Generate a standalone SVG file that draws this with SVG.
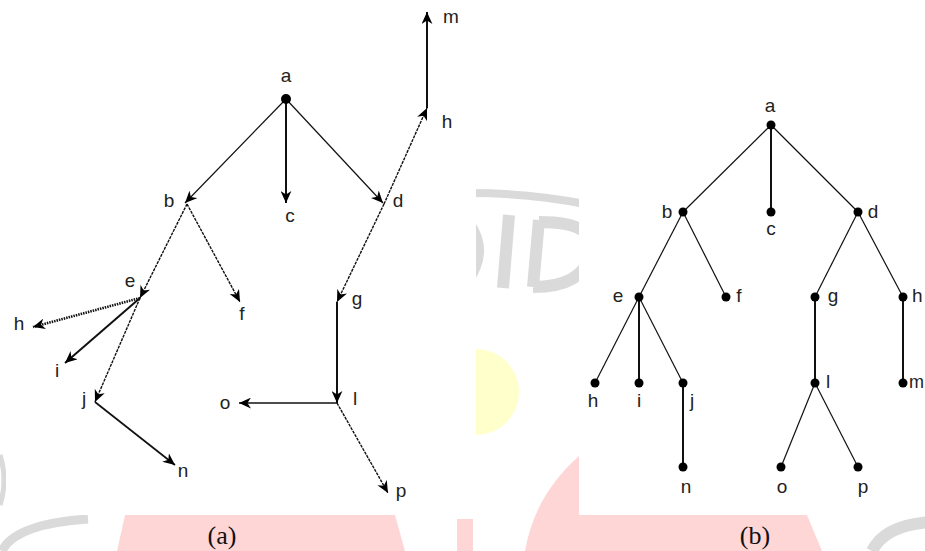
<svg xmlns="http://www.w3.org/2000/svg" width="925" height="551" viewBox="0 0 925 551">
<style>
.lbl{font-family:"Liberation Sans",Arial,sans-serif;font-size:19px;fill:#222;text-anchor:middle}
.st{font-family:"Liberation Sans",Arial,sans-serif;font-size:19px;fill:#222;text-anchor:start}
.cap{font-family:"Liberation Serif","Times New Roman",serif;font-size:26px;fill:#111;text-anchor:middle}
.e{stroke:#111;stroke-width:1.2;fill:none}
.d{stroke:#111;stroke-width:1.4;fill:none;stroke-dasharray:3 1}
.t{stroke:#111;stroke-width:2;fill:none}
.arr{marker-end:url(#ah)}
.dot{fill:#000}
.wg{fill:none;stroke:#dadada}
.pk{fill:#ffd6d6}
</style>
<defs>
<marker id="ah" viewBox="0 0 10 9" refX="10" refY="4.5" markerWidth="12" markerHeight="11" markerUnits="userSpaceOnUse" orient="auto"><path d="M0,0 L10,4.5 L0,9 L3,4.5 Z" fill="#000"/></marker>
</defs>
<rect width="925" height="551" fill="#fff"/>
<g id="watermark">
<path class="pk" d="M125,515 L395,515 L405,551 L117,551 Z"/>
<rect class="pk" x="457" y="519" width="16" height="32"/>
<path class="pk" d="M525,551 C532,512 550,482 579,456 L579,515 L807,515 L822,551 Z"/>
<circle cx="476" cy="392" r="43" fill="#ffffcc"/>
<path class="wg" stroke-width="8" d="M470,193 Q530,193 585,204"/>
<path class="wg" stroke-width="8" d="M470,222 Q490,250 470,280"/>
<path class="wg" stroke-width="12" d="M509,215 L503,288"/>
<path class="wg" stroke-width="12" d="M539,220 L533,287 M539,222 Q600,222 590,255 Q582,287 533,287"/>
<path class="wg" stroke-width="9" d="M2,551 Q15,524 88,519"/>
<path class="wg" stroke-width="5" d="M0,455 Q8,480 0,505"/>
<path class="wg" stroke-width="12" d="M872,551 Q885,525 930,522"/>
<rect x="6" y="0" width="470" height="515" fill="#fff"/>
<rect x="579" y="0" width="346" height="515" fill="#fff"/>
</g>
<g id="connectors-a">
<line class="e arr" x1="286" y1="99" x2="185" y2="203"/>
<line class="t arr" x1="286" y1="99" x2="286" y2="203"/>
<line class="e arr" x1="286" y1="99" x2="383" y2="203"/>
<line class="d arr" x1="384" y1="204" x2="427" y2="108"/>
<line class="t arr" x1="427" y1="108" x2="427" y2="12"/>
<line class="d arr" x1="187" y1="204" x2="140" y2="298"/>
<line class="d arr" x1="187" y1="204" x2="240" y2="302"/>
<line class="d arr" x1="384" y1="204" x2="337" y2="302"/>
<line class="t arr" x1="337" y1="302" x2="337" y2="403"/>
<line class="e arr" x1="337" y1="403" x2="239" y2="403" style="stroke-width:1.6"/>
<line class="d arr" x1="337" y1="403" x2="388" y2="493"/>
<line class="arr" x1="140" y1="298" x2="33" y2="327" stroke="#111" stroke-width="2.6" stroke-dasharray="1.5 1"/>
<line class="t arr" x1="140" y1="298" x2="65" y2="363"/>
<line class="d arr" x1="140" y1="298" x2="95" y2="402"/>
<line class="t arr" x1="95" y1="402" x2="175" y2="465" style="stroke-width:1.7"/>
</g>
<g id="nodes-a">
<g id="a-a"><circle class="dot" cx="286" cy="99" r="5"/><text class="lbl" x="286" y="82">a</text></g>
<g id="a-b"><text class="lbl" x="169" y="207">b</text></g>
<g id="a-c"><text class="lbl" x="290" y="222">c</text></g>
<g id="a-d"><text class="lbl" x="398" y="207">d</text></g>
<g id="a-h2"><text class="lbl" x="447" y="128">h</text></g>
<g id="a-m"><text class="lbl" x="451" y="23">m</text></g>
<g id="a-e"><text class="lbl" x="130" y="287">e</text></g>
<g id="a-f"><text class="lbl" x="242" y="320">f</text></g>
<g id="a-g"><text class="lbl" x="357" y="305">g</text></g>
<g id="a-l"><text class="lbl" x="355" y="405">l</text></g>
<g id="a-o"><text class="lbl" x="225" y="409">o</text></g>
<g id="a-p"><text class="lbl" x="401" y="497">p</text></g>
<g id="a-h"><text class="lbl" x="19" y="330">h</text></g>
<g id="a-i"><text class="lbl" x="57" y="377">i</text></g>
<g id="a-j"><text class="lbl" x="84" y="405">j</text></g>
<g id="a-n"><text class="lbl" x="183" y="477">n</text></g>
</g>
<g id="connectors-b">
<line class="e" x1="771" y1="125" x2="683" y2="212"/>
<line class="t" x1="771" y1="125" x2="771" y2="212"/>
<line class="e" x1="771" y1="125" x2="858" y2="212"/>
<line class="e" x1="683" y1="212" x2="639" y2="297"/>
<line class="e" x1="683" y1="212" x2="726" y2="297"/>
<line class="e" x1="858" y1="212" x2="815" y2="297"/>
<line class="e" x1="858" y1="212" x2="903" y2="297"/>
<line class="e" x1="639" y1="297" x2="595" y2="383"/>
<line class="t" x1="639" y1="297" x2="639" y2="383"/>
<line class="e" x1="639" y1="297" x2="683" y2="383"/>
<line class="t" x1="815" y1="297" x2="815" y2="383"/>
<line class="t" x1="903" y1="297" x2="903" y2="383"/>
<line class="t" x1="683" y1="383" x2="683" y2="467"/>
<line class="e" x1="815" y1="383" x2="781" y2="467"/>
<line class="e" x1="815" y1="383" x2="858" y2="467"/>
</g>
<g id="nodes-b">
<g id="b-a"><circle class="dot" cx="771" cy="125" r="4.5"/><text class="lbl" x="770" y="112">a</text></g>
<g id="b-b"><circle class="dot" cx="683" cy="212" r="4.5"/><text class="lbl" x="667" y="218">b</text></g>
<g id="b-c"><circle class="dot" cx="771" cy="212" r="4.5"/><text class="lbl" x="771" y="235">c</text></g>
<g id="b-d"><circle class="dot" cx="858" cy="212" r="4.5"/><text class="lbl" x="873" y="218">d</text></g>
<g id="b-e"><circle class="dot" cx="639" cy="297" r="4.5"/><text class="lbl" x="618" y="302">e</text></g>
<g id="b-f"><circle class="dot" cx="726" cy="297" r="4.5"/><text class="lbl" x="739" y="302">f</text></g>
<g id="b-g"><circle class="dot" cx="815" cy="297" r="4.5"/><text class="lbl" x="833" y="302">g</text></g>
<g id="b-h2"><circle class="dot" cx="903" cy="297" r="4.5"/><text class="st" x="912" y="302">h</text></g>
<g id="b-h"><circle class="dot" cx="595" cy="383" r="4.5"/><text class="lbl" x="593" y="407">h</text></g>
<g id="b-i"><circle class="dot" cx="639" cy="383" r="4.5"/><text class="lbl" x="639" y="407">i</text></g>
<g id="b-j"><circle class="dot" cx="683" cy="383" r="4.5"/><text class="lbl" x="692" y="407">j</text></g>
<g id="b-l"><circle class="dot" cx="815" cy="383" r="4.5"/><text class="lbl" x="828" y="388">l</text></g>
<g id="b-m"><circle class="dot" cx="903" cy="383" r="4.5"/><text class="st" x="909" y="388" style="font-size:18px">m</text></g>
<g id="b-n"><circle class="dot" cx="683" cy="467" r="4.5"/><text class="lbl" x="686" y="493">n</text></g>
<g id="b-o"><circle class="dot" cx="781" cy="467" r="4.5"/><text class="lbl" x="782" y="493">o</text></g>
<g id="b-p"><circle class="dot" cx="858" cy="467" r="4.5"/><text class="lbl" x="863" y="493">p</text></g>
</g>
<g id="captions">
<text class="cap" x="222" y="544">(a)</text>
<text class="cap" x="755" y="544">(b)</text>
</g>
</svg>
